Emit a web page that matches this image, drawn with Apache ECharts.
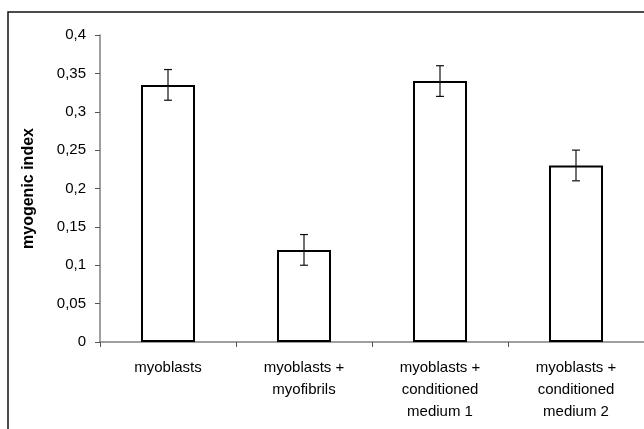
<!DOCTYPE html>
<html>
<head>
<meta charset="utf-8">
<script src="https://cdn.jsdelivr.net/npm/echarts@6/dist/echarts.min.js"></script>
<style>
  html, body { margin: 0; padding: 0; background: #fff; }
  #chart { width: 644px; height: 429px; }
</style>
</head>
<body>
<div id="chart"></div>
<script>
var categories = ['myoblasts', 'myoblasts +\nmyofibrils', 'myoblasts +\nconditioned\nmedium 1', 'myoblasts +\nconditioned\nmedium 2'];
var values = [0.335, 0.12, 0.34, 0.23];
var errors = [0.02, 0.02, 0.02, 0.02];
var yTickLabels = ['0', '0,05', '0,1', '0,15', '0,2', '0,25', '0,3', '0,35', '0,4'];

var errData = values.map(function (v, i) { return [i, v - errors[i], v + errors[i]]; });

var chart = echarts.init(document.getElementById('chart'), null, { renderer: 'canvas' });
chart.setOption({
  animation: false,
  backgroundColor: '#fff',
  textStyle: { fontFamily: 'Liberation Sans, Arial, sans-serif' },
  graphic: [{
    type: 'rect',
    shape: { x: 8, y: 12, width: 700, height: 500 },
    style: { fill: 'none', stroke: '#111', lineWidth: 1.5 },
    silent: true
  }],
  grid: { left: 100, right: 0, top: 35, bottom: 87, containLabel: false },
  xAxis: {
    type: 'category',
    data: categories,
    axisLine: { lineStyle: { color: '#808080', width: 1.5 } },
    axisTick: { show: true, length: 5, lineStyle: { color: '#555' }, alignWithLabel: false },
    axisLabel: { color: '#000', fontSize: 15, lineHeight: 22, margin: 15, interval: 0 }
  },
  yAxis: {
    type: 'value',
    min: 0, max: 0.4, interval: 0.05,
    name: 'myogenic index',
    nameLocation: 'middle',
    nameGap: 63,
    nameRotate: 90,
    nameTextStyle: { color: '#000', fontWeight: 'bold', fontSize: 16 },
    axisLine: { show: true, lineStyle: { color: '#808080', width: 1.5 } },
    axisTick: { show: true, length: 5, lineStyle: { color: '#555' } },
    splitLine: { show: false },
    axisLabel: {
      color: '#000', fontSize: 15, margin: 14,
      formatter: function (v) { return yTickLabels[Math.round(v / 0.05)]; }
    }
  },
  series: [{
    type: 'bar',
    data: values,
    barWidth: 54,
    itemStyle: { color: '#fff', borderColor: '#000', borderWidth: 2 },
    z: 2
  }, {
    type: 'custom',
    data: errData,
    z: 5,
    renderItem: function (params, api) {
      var x = api.value(0);
      var lo = api.coord([x, api.value(1)]);
      var hi = api.coord([x, api.value(2)]);
      var hw = 4;
      var st = { stroke: '#111', lineWidth: 1.2 };
      return {
        type: 'group',
        children: [
          { type: 'line', shape: { x1: hi[0], y1: hi[1], x2: lo[0], y2: lo[1] }, style: st },
          { type: 'line', shape: { x1: hi[0] - hw, y1: hi[1], x2: hi[0] + hw, y2: hi[1] }, style: st },
          { type: 'line', shape: { x1: lo[0] - hw, y1: lo[1], x2: lo[0] + hw, y2: lo[1] }, style: st }
        ]
      };
    }
  }]
});
</script>
</body>
</html>
